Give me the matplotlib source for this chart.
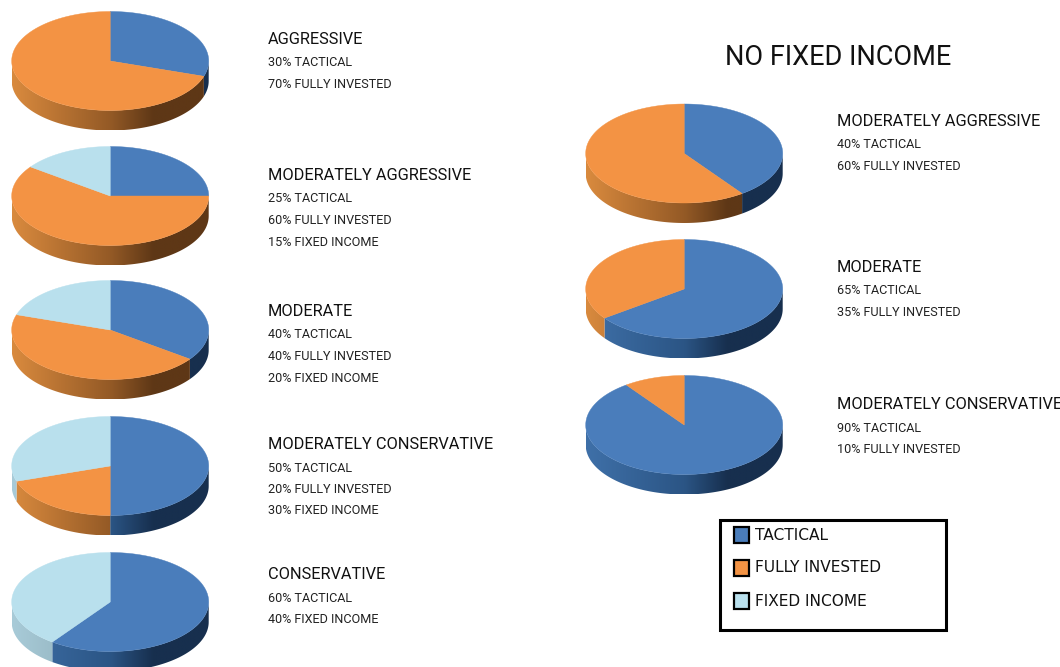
import numpy as np
import matplotlib
matplotlib.use('Agg')
import matplotlib.pyplot as plt
from matplotlib.patches import Polygon, Rectangle
from matplotlib.colors import to_rgb

# slice shares as drawn in the picture: tactical, fully invested, fixed income
left_names = ['AGGRESSIVE', 'MODERATELY AGGRESSIVE', 'MODERATE', 'MODERATELY CONSERVATIVE', 'CONSERVATIVE']
left_shares = [[30, 70, 0], [25, 60, 15], [35, 45, 20], [50, 20, 30], [60, 0, 40]]
left_notes = [
    ['30% TACTICAL', '70% FULLY INVESTED'],
    ['25% TACTICAL', '60% FULLY INVESTED', '15% FIXED INCOME'],
    ['40% TACTICAL', '40% FULLY INVESTED', '20% FIXED INCOME'],
    ['50% TACTICAL', '20% FULLY INVESTED', '30% FIXED INCOME'],
    ['60% TACTICAL', '40% FIXED INCOME'],
]
right_names = ['MODERATELY AGGRESSIVE', 'MODERATE', 'MODERATELY CONSERVATIVE']
right_shares = [[40, 60, 0], [65, 35, 0], [90, 10, 0]]
right_notes = [
    ['40% TACTICAL', '60% FULLY INVESTED'],
    ['65% TACTICAL', '35% FULLY INVESTED'],
    ['90% TACTICAL', '10% FULLY INVESTED'],
]
legend_names = ['TACTICAL', 'FULLY INVESTED', 'FIXED INCOME']
colors = ['#4a7dbb', '#f39344', '#b9e0ed']
side_left = ['#3f70a8', '#d98a3e', '#a8cbd8']
side_mid = ['#2b5585', '#945a26', '#8aa9b4']
side_dark = ['#172f4e', '#5e3716', '#6f8c96']

left_cy = [61, 196, 330, 466, 602]
left_text_y = [39.5, 175.5, 311.5, 444.5, 574.5]
right_cy = [153.5, 289, 425]
right_text_y = [121.5, 267.5, 404.5]
RX, RY, DEPTH = 98.5, 49.5, 20
FONT = 'Roboto'

fig = plt.figure(figsize=(10.6, 6.67), dpi=100)
ax = fig.add_axes([0, 0, 1, 1])


def ellipse(cx, cy, a, b, n=120):
    # angles in degrees, clockwise from twelve o'clock
    t = np.radians(np.linspace(a, b, n))
    return np.column_stack([cx + RX * np.sin(t), cy - RY * np.cos(t)])


def side_image(i):
    stops = np.array([to_rgb(side_left[i]), to_rgb(side_mid[i]), to_rgb(side_dark[i]), to_rgb(side_dark[i])])
    x = np.linspace(0, 1, 200)
    return np.stack([np.interp(x, [0, 0.5, 0.72, 1], stops[:, c]) for c in range(3)], axis=1)[None, :, :]


def draw_pie(cx, cy, shares):
    start = 0
    for i, share in enumerate(shares):
        stop = start + share * 3.6
        if share:
            # wall of the disc, only the part facing the viewer
            a, b = max(start, 90), min(stop, 270)
            if a < b:
                top = ellipse(cx, cy, a, b)
                low = top[::-1] + [0, DEPTH]
                wall = Polygon(np.vstack([top, low]), closed=True, transform=ax.transData, fc='none', ec='none')
                ax.add_patch(wall)
                im = ax.imshow(side_image(i), extent=[cx - RX, cx + RX, cy + RY + DEPTH, cy - RY],
                               aspect='auto', zorder=2)
                im.set_clip_path(wall)
            face = np.vstack([[cx, cy], ellipse(cx, cy, start, stop)])
            ax.add_patch(Polygon(face, closed=True, fc=colors[i], ec=colors[i], lw=0.3, zorder=3))
        start = stop


def draw_block(x, y, name, notes):
    ax.text(x, y, name, fontsize=11.75, family=FONT, va='center', color='#111111')
    for k, note in enumerate(notes):
        ax.text(x, y + 23.5 + 21.5 * k, note, fontsize=9.1, family=FONT, va='center', color='#222222')


for cy, shares in zip(left_cy, left_shares):
    draw_pie(110.2, cy, shares)
for y, name, notes in zip(left_text_y, left_names, left_notes):
    draw_block(268, y, name, notes)

ax.text(725, 57.5, 'NO FIXED INCOME', fontsize=19.5, family=FONT, va='center', color='#111111')
for cy, shares in zip(right_cy, right_shares):
    draw_pie(684.2, cy, shares)
for y, name, notes in zip(right_text_y, right_names, right_notes):
    draw_block(837, y, name, notes)

# legend box
ax.add_patch(Rectangle((720, 519.5), 226, 110, fc='white', ec='black', lw=2.2, zorder=3))
for i, (y, name) in enumerate(zip([535, 568, 601], legend_names)):
    ax.add_patch(Rectangle((733.5, y - 8), 15, 16, fc=colors[i], ec='black', lw=1.6, zorder=4))
    ax.text(755, y, name, fontsize=11.1, family='DejaVu Sans', va='center', color='#111111', zorder=4)

ax.set_xlim(0, 1060)
ax.set_ylim(667, 0)
ax.axis('off')
fig.savefig('out.png', dpi=100)
